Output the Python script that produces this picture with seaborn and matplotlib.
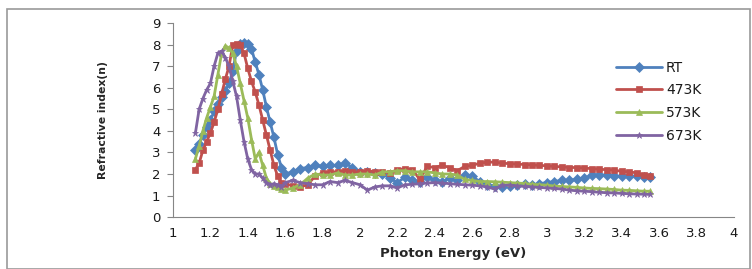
import matplotlib
matplotlib.use('Agg')
import matplotlib.pyplot as plt
from matplotlib.patches import Rectangle
from matplotlib.ticker import MultipleLocator
import numpy as np
import pandas as pd
import seaborn as sns


# photon energy grid (eV): dense over the peak, coarser in the tail
ENERGY = [1.12, 1.14, 1.16, 1.18, 1.20, 1.22, 1.24, 1.26, 1.28, 1.30,
          1.32, 1.34, 1.36, 1.38, 1.40, 1.42, 1.44, 1.46, 1.48, 1.50,
          1.52, 1.54, 1.56, 1.58, 1.60,
          1.64, 1.68, 1.72, 1.76, 1.80, 1.84, 1.88, 1.92, 1.96, 2.00,
          2.04, 2.08, 2.12, 2.16, 2.20, 2.24, 2.28, 2.32, 2.36, 2.40,
          2.44, 2.48, 2.52, 2.56, 2.60, 2.64, 2.68, 2.72, 2.76, 2.80,
          2.84, 2.88, 2.92, 2.96, 3.00, 3.04, 3.08, 3.12, 3.16, 3.20,
          3.24, 3.28, 3.32, 3.36, 3.40, 3.44, 3.48, 3.52, 3.55]

N_RT = [3.1, 3.4, 3.8, 4.2, 4.5, 4.9, 5.25, 5.55, 5.85, 6.2,
        6.8, 7.7, 8.05, 8.1, 8.05, 7.8, 7.2, 6.6, 5.9, 5.1,
        4.4, 3.7, 2.9, 2.3, 2.0,
        2.1, 2.25, 2.3, 2.4, 2.35, 2.4, 2.4, 2.5, 2.3, 2.1,
        2.1, 2.05, 2.0, 1.8, 1.6, 1.85, 1.7, 1.65, 1.85, 1.7,
        1.65, 1.8, 1.7, 1.95, 1.9, 1.65, 1.5, 1.45, 1.4, 1.45,
        1.5, 1.55, 1.5, 1.55, 1.6, 1.65, 1.7, 1.7, 1.75, 1.8,
        1.95, 1.95, 1.95, 1.9, 1.9, 1.9, 1.9, 1.88, 1.88]

N_473 = [2.2, 2.5, 3.1, 3.5, 3.9, 4.4, 5.0, 5.7, 6.4, 7.0,
         8.0, 8.05, 8.0, 7.6, 6.9, 6.3, 5.8, 5.2, 4.5, 3.8,
         3.1, 2.4, 1.9, 1.6, 1.55,
         1.45, 1.4, 1.5, 1.9, 2.05, 2.1, 2.1, 2.15, 2.1, 2.1,
         2.15, 2.1, 2.1, 2.05, 2.2, 2.25, 2.2, 1.75, 2.35, 2.3,
         2.4, 2.3, 2.15, 2.35, 2.4, 2.5, 2.55, 2.55, 2.5, 2.48,
         2.46, 2.44, 2.42, 2.4, 2.38, 2.35, 2.33, 2.3, 2.3, 2.27,
         2.25, 2.22, 2.2, 2.18, 2.12, 2.1, 2.05, 1.95, 1.9]

N_573 = [2.7, 3.3, 4.0, 4.6, 5.1, 5.6, 6.6, 7.6, 7.95, 7.85,
         7.6, 7.0, 6.2, 5.4, 4.6, 3.6, 2.7, 3.0, 2.4, 1.8,
         1.55, 1.45, 1.4, 1.3, 1.25,
         1.35, 1.5, 1.8, 2.0, 1.95, 1.95, 2.05, 1.95, 1.95, 2.0,
         2.0, 1.95, 2.1, 2.1, 2.15, 2.15, 2.1, 2.1, 2.1, 2.05,
         2.0, 2.0, 1.95, 1.75, 1.7, 1.65, 1.65, 1.64, 1.62, 1.6,
         1.58, 1.56, 1.52, 1.5, 1.48, 1.44, 1.42, 1.4, 1.38, 1.35,
         1.33, 1.32, 1.3, 1.28, 1.25, 1.24, 1.22, 1.2, 1.2]

N_673 = [3.9, 5.0, 5.5, 5.9, 6.2, 7.0, 7.6, 7.7, 7.4, 7.0,
         6.3, 5.6, 4.5, 3.5, 2.7, 2.2, 2.0, 2.0, 1.8, 1.6,
         1.5, 1.55, 1.5, 1.4, 1.6,
         1.7, 1.6, 1.55, 1.5, 1.5, 1.65, 1.6, 1.7, 1.6, 1.5,
         1.25, 1.4, 1.45, 1.45, 1.35, 1.5, 1.52, 1.55, 1.58, 1.6,
         1.58, 1.55, 1.52, 1.5, 1.48, 1.45, 1.4, 1.3, 1.48, 1.48,
         1.45, 1.42, 1.4, 1.38, 1.35, 1.33, 1.3, 1.25, 1.22, 1.2,
         1.18, 1.15, 1.13, 1.12, 1.1, 1.08, 1.07, 1.06, 1.05]

SERIES = ['RT', '473K', '573K', '673K']
COLORS = {'RT': '#4F81BD', '473K': '#C0504D', '573K': '#9BBB59', '673K': '#8064A2'}
MARKERS = {'RT': 'D', '473K': 's', '573K': '^', '673K': '*'}

df = pd.concat([
    pd.DataFrame({'energy': ENERGY, 'n': vals, 'series': name})
    for name, vals in zip(SERIES, [N_RT, N_473, N_573, N_673])
], ignore_index=True)

sns.set_style('white')
plt.rcParams['font.family'] = ['DejaVu Sans']

fig = plt.figure(figsize=(7.52, 2.69), dpi=100)
ax = fig.add_axes([0.230, 0.193, 0.746, 0.721])

sns.lineplot(data=df, x='energy', y='n', hue='series', style='series',
             hue_order=SERIES, style_order=SERIES, palette=COLORS,
             markers=MARKERS, dashes=False, markersize=5.0,
             markeredgewidth=0.5, markeredgecolor='auto', linewidth=2.0,
             sort=False, ax=ax)

ax.set_xlim(1, 4)
ax.set_ylim(0, 9)
ax.xaxis.set_minor_locator(MultipleLocator(0.04))
ax.yaxis.set_major_locator(MultipleLocator(1))
ticks = np.round(np.arange(1, 4.01, 0.2), 1)
ax.set_xticks(ticks)
ax.set_xticklabels([f'{v:g}' for v in ticks])

for s in ['top', 'right']:
    ax.spines[s].set_visible(False)
for s in ['left', 'bottom']:
    ax.spines[s].set_color('#868686')
    ax.spines[s].set_linewidth(0.8)

ax.tick_params(axis='x', which='major', direction='inout', length=6,
               width=0.8, color='#868686', labelsize=9.5, pad=4,
               labelcolor='#1a1a1a')
ax.tick_params(axis='x', which='minor', direction='in', length=3,
               width=0.6, color='#868686')
ax.tick_params(axis='y', which='major', direction='out', length=4,
               width=0.8, color='#868686', labelsize=9.5, pad=5,
               labelcolor='#1a1a1a', left=True)

ax.set_xlabel('Photon Energy (eV)', fontsize=9.5, fontweight='bold',
              labelpad=5)
ax.set_ylabel('Refractive index(n)', fontsize=7.8, fontweight='bold',
              labelpad=32,
              family=['Liberation Sans Narrow', 'DejaVu Sans Condensed',
                      'DejaVu Sans'])

leg = ax.legend(loc='upper left', bbox_to_anchor=(0.78, 0.835), frameon=False,
                fontsize=10, handlelength=3.3, labelspacing=0.62,
                handletextpad=0.3, borderaxespad=0)
for t in leg.get_texts():
    t.set_color('#1a1a1a')

fig.patches.append(Rectangle((0.009, 0.0), 0.988, 0.967,
                             transform=fig.transFigure, fill=False,
                             edgecolor='#9a9a9a', linewidth=1.2))

fig.savefig('out.png', dpi=100)
